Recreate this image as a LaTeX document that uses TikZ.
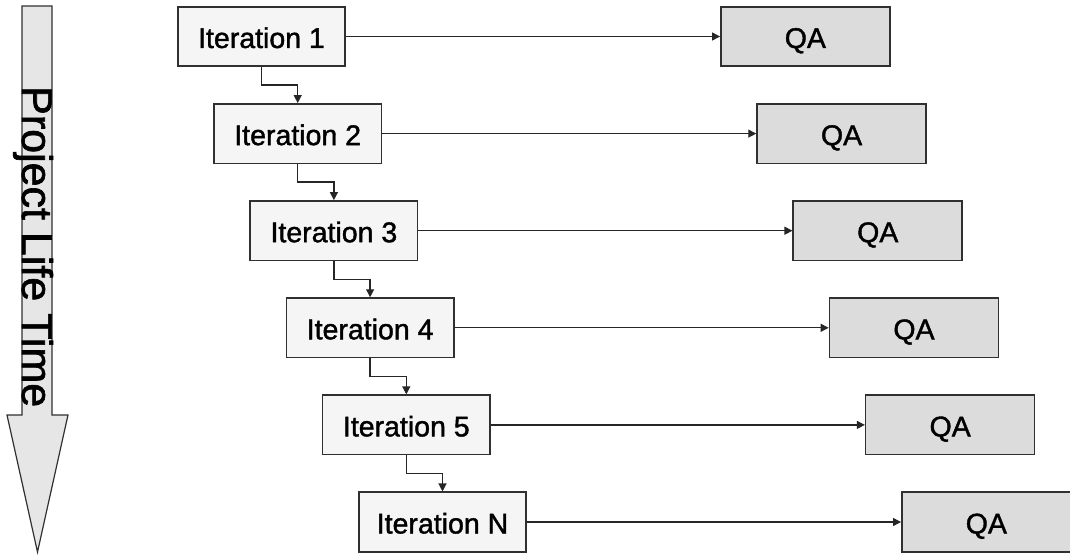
\documentclass[tikz,border=0pt]{standalone}
\usepackage{fontspec}
\setmainfont{Liberation Sans}
\newfontfamily\heavyfont{Liberation Sans}[FakeBold=1.4]
\usetikzlibrary{positioning,arrows.meta,calc}
\definecolor{iterfill}{HTML}{F5F5F5}
\definecolor{qafill}{HTML}{DCDCDC}
\definecolor{timefill}{HTML}{E6E6E6}
\definecolor{boxline}{HTML}{303030}
\tikzset{
  >={Triangle[length=8pt,width=8pt]},
  iter/.style={draw=boxline, fill=iterfill, line width=1.6pt,
    minimum width=167.5pt, minimum height=59.5pt, inner sep=0pt,
    text height=23pt, text depth=0pt,
    font=\heavyfont\fontsize{28.5}{30}\selectfont},
  qa/.style={iter, fill=qafill, minimum width=169pt},
  flow/.style={->, line width=1.3pt, draw=black!85},
}

\begin{document}
\begin{tikzpicture}[
  x=1pt, y=-1pt,
  node distance=36pt,
]
\useasboundingbox (0,0) rectangle (1070,556);

% time arrow
\draw[draw=boxline, fill=timefill, line width=1.2pt]
  (22,6) -- (52,6) -- (52,415) -- (68,415) -- (37.5,552) -- (7,415) -- (22,415) -- cycle;
\node[rotate=-90, anchor=base west, inner sep=0pt,
  font=\heavyfont\fontsize{43}{43}\selectfont] (life) at (22,86) {Project Life Time};

% iterations
\node[iter] (i1) at (261.5,36.5) {Iteration 1};
\node[iter, below=of i1, xshift=36.2pt] (i2) {Iteration 2};
\node[iter, below=of i2, xshift=36.2pt] (i3) {Iteration 3};
\node[iter, below=of i3, xshift=36.2pt] (i4) {Iteration 4};
\node[iter, below=of i4, xshift=36.2pt] (i5) {Iteration 5};
\node[iter, below=of i5, xshift=36.2pt] (iN) {Iteration N};

% qa boxes
\node[qa, right=374pt of i1] (q1) {QA};
\node[qa, right=374pt of i2] (q2) {QA};
\node[qa, right=374pt of i3] (q3) {QA};
\node[qa, right=374pt of i4] (q4) {QA};
\node[qa, right=374pt of i5] (q5) {QA};
\node[qa, right=374pt of iN] (qN) {QA};

\draw[flow] (i1) -- (q1);
\draw[flow] (i2) -- (q2);
\draw[flow] (i3) -- (q3);
\draw[flow] (i4) -- (q4);
\draw[flow] (i5) -- (q5);
\draw[flow] (iN) -- (qN);

\draw[flow] (i1.south) |- ($(i1.south)!.5!(i2.north)$) -| (i2.north);
\draw[flow] (i2.south) |- ($(i2.south)!.5!(i3.north)$) -| (i3.north);
\draw[flow] (i3.south) |- ($(i3.south)!.5!(i4.north)$) -| (i4.north);
\draw[flow] (i4.south) |- ($(i4.south)!.5!(i5.north)$) -| (i5.north);
\draw[flow] (i5.south) |- ($(i5.south)!.5!(iN.north)$) -| (iN.north);

\end{tikzpicture}
\end{document}
